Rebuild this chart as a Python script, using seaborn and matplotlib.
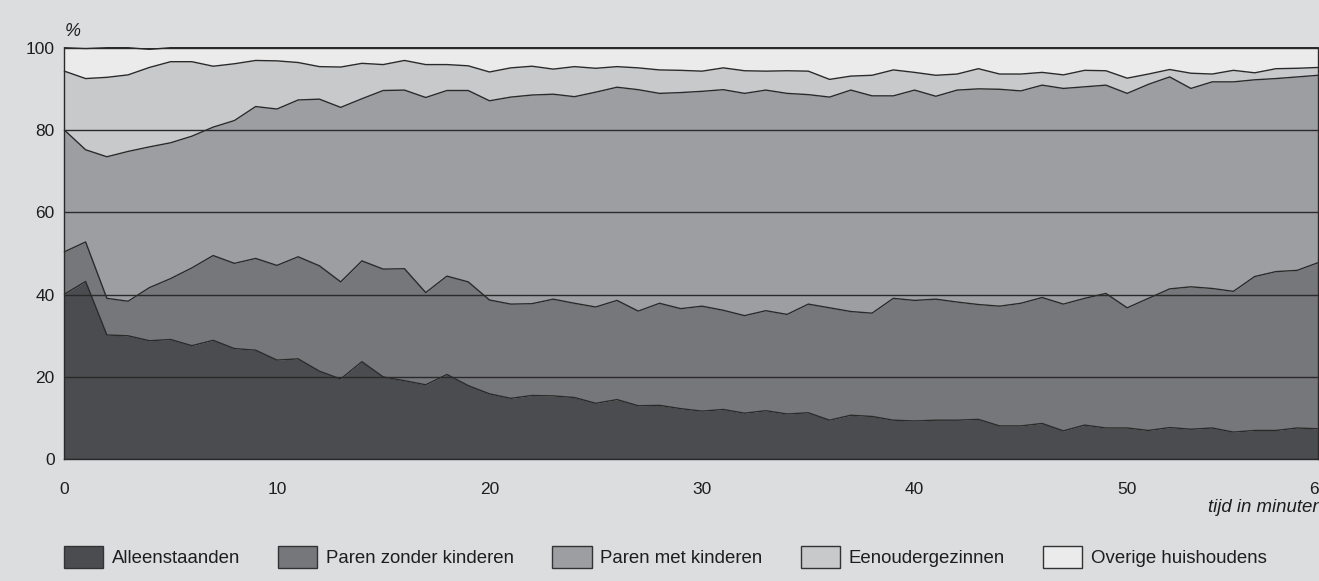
import numpy as np
import matplotlib
matplotlib.use("Agg")
import matplotlib.pyplot as plt
import seaborn as sns
from matplotlib.patches import Patch

# minutes 0..59 (one point per minute)
minutes = list(range(60))

alleenstaanden = [40.1, 43.2, 30.2, 30.0, 28.8, 29.1, 27.6, 28.9, 26.9, 26.5,
                  24.1, 24.4, 21.4, 19.5, 23.7, 20.0, 19.1, 18.1, 20.6, 17.9,
                  15.9, 14.8, 15.5, 15.4, 15.0, 13.6, 14.5, 13.0, 13.1, 12.3,
                  11.7, 12.1, 11.2, 11.8, 11.0, 11.3, 9.5, 10.7, 10.4, 9.5,
                  9.3, 9.5, 9.5, 9.7, 8.1, 8.1, 8.7, 6.9, 8.3, 7.6,
                  7.6, 7.0, 7.7, 7.3, 7.6, 6.6, 7.0, 7.0, 7.6, 7.4]
paren_zonder = [10.3, 9.6, 8.9, 8.4, 12.9, 14.8, 18.9, 20.6, 20.7, 22.3,
                23.0, 24.8, 25.6, 23.6, 24.5, 26.2, 27.2, 22.4, 23.9, 25.2,
                22.8, 22.9, 22.3, 23.5, 22.9, 23.4, 24.1, 23.0, 24.8, 24.3,
                25.5, 24.1, 23.7, 24.3, 24.2, 26.4, 27.3, 25.2, 25.1, 29.6,
                29.3, 29.4, 28.7, 27.9, 29.1, 29.8, 30.6, 30.8, 30.8, 32.7,
                29.2, 32.1, 33.7, 34.6, 33.9, 34.2, 37.4, 38.6, 38.3, 40.4]
paren_met = [29.6, 22.4, 34.4, 36.4, 34.2, 33.0, 32.0, 31.2, 34.7, 36.9,
             38.0, 38.1, 40.5, 42.4, 39.4, 43.4, 43.4, 47.4, 45.1, 46.5,
             48.4, 50.3, 50.7, 49.8, 50.2, 52.2, 51.8, 53.8, 51.0, 52.5,
             52.2, 53.6, 54.0, 53.6, 53.7, 50.9, 51.2, 53.8, 52.8, 49.2,
             51.1, 49.3, 51.5, 52.4, 52.7, 51.6, 51.6, 52.4, 51.4, 50.6,
             52.1, 52.0, 51.5, 48.2, 50.2, 50.9, 47.8, 46.9, 47.0, 45.5]
eenouder = [14.3, 17.3, 19.3, 18.6, 19.3, 19.7, 18.1, 14.8, 13.8, 11.2,
            11.7, 9.1, 7.9, 9.8, 8.6, 6.3, 7.2, 8.0, 6.3, 6.0,
            7.0, 7.1, 7.0, 6.1, 7.3, 5.8, 5.0, 5.3, 5.7, 5.4,
            4.9, 5.3, 5.5, 4.6, 5.5, 5.7, 4.3, 3.4, 5.0, 6.3,
            4.3, 5.1, 3.9, 4.9, 3.7, 4.1, 3.1, 3.3, 4.0, 3.5,
            3.7, 2.5, 1.8, 3.7, 1.9, 2.8, 1.7, 2.4, 2.1, 1.9]
overige = [5.7, 7.3, 7.2, 6.6, 4.4, 3.4, 3.4, 4.5, 3.9, 3.1,
           3.2, 3.6, 4.6, 4.7, 3.8, 4.1, 3.1, 4.1, 4.1, 4.4,
           5.9, 4.9, 4.5, 5.2, 4.6, 5.0, 4.6, 4.9, 5.4, 5.5,
           5.7, 4.9, 5.6, 5.7, 5.6, 5.7, 7.7, 6.9, 6.7, 5.4,
           6.0, 6.7, 6.4, 5.1, 6.4, 6.4, 6.0, 6.6, 5.5, 5.6,
           7.4, 6.4, 5.3, 6.2, 6.4, 5.5, 6.1, 5.1, 5.0, 4.8]

labels = ["Alleenstaanden", "Paren zonder kinderen", "Paren met kinderen",
          "Eenoudergezinnen", "Overige huishoudens"]
colors = ["#4b4c4f", "#76777b", "#9d9ea2", "#c8c9cb", "#ebebec"]
xtick_pos = [0, 10, 20, 30, 40, 50, 59]
xtick_labels = ["0", "10", "20", "30", "40", "50", "60"]

bg = "#dcdddf"
ink = "#2a2a2a"
txt = "#1e1e1e"

sns.set_theme(style="white")
plt.rcParams['font.family'] = ['Liberation Sans', 'DejaVu Sans']

fig = plt.figure(figsize=(13.19, 5.81), dpi=100, facecolor=bg)
ax = fig.add_axes([0.0488, 0.2095, 0.9508, 0.7084])
ax.set_facecolor(bg)

series = [alleenstaanden, paren_zonder, paren_met, eenouder, overige]
ax.stackplot(minutes, *series, colors=colors, linewidth=0)

# boundary lines between the layers
cum = np.cumsum(np.array(series), axis=0)
for row in cum:
    sns.lineplot(x=minutes, y=row, ax=ax, color=ink, linewidth=1.0,
                 clip_on=False, zorder=3)

ax.set_xlim(0, 59)
ax.set_ylim(0, 100)
ax.set_yticks(range(0, 101, 20))
ax.yaxis.grid(True, color=ink, linewidth=1.0)
ax.set_axisbelow(False)
ax.xaxis.grid(False)

ax.set_xticks(xtick_pos)
ax.set_xticklabels(xtick_labels)
ax.set_xticks(minutes, minor=True)
ax.tick_params(axis='x', which='both', direction='out', length=7, width=1,
               color=ink, labelsize=12.5, labelcolor=txt, pad=9)
ax.tick_params(axis='y', length=0, labelsize=12.5, labelcolor=txt, pad=7)

for side in ["left", "right", "bottom"]:
    ax.spines[side].set_color(ink)
    ax.spines[side].set_linewidth(1.0)
ax.spines["top"].set_visible(False)

fig.text(0.0493, 0.946, "%", fontsize=13, style="italic", color=txt,
         va="center", ha="left")
fig.text(1.003, 0.126, "tijd in minuten", fontsize=13.4, style="italic",
         color=txt, va="center", ha="right")

handles = [Patch(facecolor=c, edgecolor="#333333", linewidth=1.0) for c in colors]
fig.legend(handles, labels, loc="center left", bbox_to_anchor=(0.0483, 0.041),
           ncol=5, frameon=False, fontsize=13.4, handlelength=2.1,
           handleheight=1.46, handletextpad=0.48, columnspacing=2.05,
           borderpad=0, borderaxespad=0, labelcolor=txt)

fig.savefig("out.png", dpi=100, facecolor=bg)
